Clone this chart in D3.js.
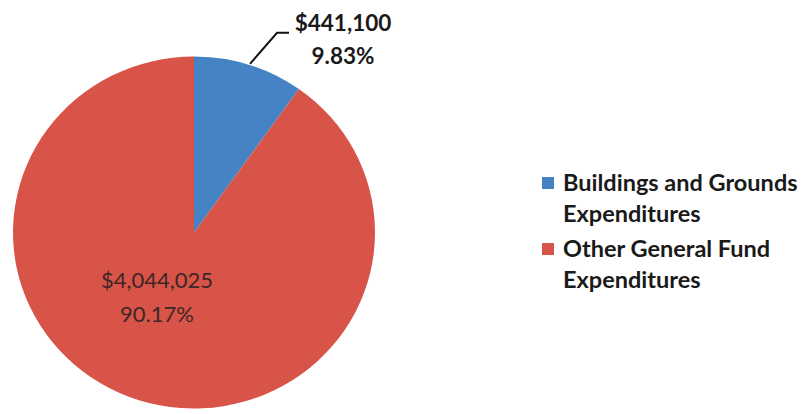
<!DOCTYPE html>
<html>
<head>
<meta charset="utf-8">
<script src="https://cdn.jsdelivr.net/npm/d3@7"></script>
<style>
  html, body { margin: 0; padding: 0; background: #ffffff; }
  svg { display: block; }
  text { font-family: Lato, "Open Sans", sans-serif; }
</style>
</head>
<body>
<svg id="chart" width="810" height="414"></svg>
<script>
// General fund expenditure split
const categories = ["Buildings and Grounds Expenditures", "Other General Fund Expenditures"];
const legendLines = [["Buildings and Grounds", "Expenditures"], ["Other General Fund", "Expenditures"]];
const amounts = [441100, 4044025];
const valueLabels = ["$441,100", "$4,044,025"];
const percentLabels = ["9.83%", "90.17%"];
const colors = ["#4683c5", "#d85449"];

const svg = d3.select("#chart");
const W = 810, H = 414;
svg.append("rect").attr("width", W).attr("height", H).attr("fill", "#fff");

const cx = 194, cy = 232.5, rx = 181, ry = 176;
const color = d3.scaleOrdinal().domain(categories).range(colors);

const pie = d3.pie().sort(null).value(d => d.value);
const data = categories.map((c, i) => ({ name: c, value: amounts[i], label: valueLabels[i], pct: percentLabels[i] }));
const arcs = pie(data);
const arc = d3.arc().innerRadius(0).outerRadius(rx);

// Pie drawn as a circle, then flattened slightly vertically
const g = svg.append("g").attr("transform", `translate(${cx},${cy}) scale(1,${ry / rx})`);
g.selectAll("path.slice")
  .data(arcs)
  .join("path")
  .attr("class", "slice")
  .attr("d", arc)
  .attr("fill", d => color(d.data.name));

// Outside label for the small slice with a leader line
const small = arcs[0];
const mid = (small.startAngle + small.endAngle) / 2;
const ex = cx + rx * Math.sin(mid), ey = cy - ry * Math.cos(mid);
const elbow = [ex + 28, ey - 32];
const tail = [elbow[0] + 12, elbow[1]];
svg.append("path")
  .attr("d", d3.line()([[ex + 1, ey - 1], elbow, tail]))
  .attr("fill", "none")
  .attr("stroke", "#111")
  .attr("stroke-width", 2);

const outLabel = svg.append("text")
  .attr("text-anchor", "middle")
  .attr("font-weight", "bold")
  .attr("font-size", 22.5)
  .attr("fill", "#1a1a1a");
outLabel.append("tspan").attr("x", 343).attr("y", 31).text(small.data.label);
outLabel.append("tspan").attr("x", 343).attr("y", 64).text(small.data.pct);

// Inside label for the large slice
const big = arcs[1];
const inLabel = svg.append("text")
  .attr("text-anchor", "middle")
  .attr("font-size", 22)
  .attr("fill", "#2e2220")
  .attr("opacity", 0.9);
inLabel.append("tspan").attr("x", cx - 37).attr("y", 288).text(big.data.label);
inLabel.append("tspan").attr("x", cx - 37).attr("y", 322).text(big.data.pct);

// Legend
const legend = svg.append("g");
const legendTops = [177, 243];
const item = legend.selectAll("g.item")
  .data(categories)
  .join("g")
  .attr("class", "item")
  .attr("transform", (d, i) => `translate(542,${legendTops[i]})`);
item.append("rect")
  .attr("width", 12).attr("height", 12)
  .attr("fill", d => color(d));
item.each(function(d, i) {
  const t = d3.select(this).append("text")
    .attr("font-weight", "bold")
    .attr("font-size", 23.5)
    .attr("fill", "#1a1a1a");
  legendLines[i].forEach((line, j) => {
    t.append("tspan").attr("x", 21).attr("y", 14 + j * 31).text(line);
  });
});
</script>
</body>
</html>
